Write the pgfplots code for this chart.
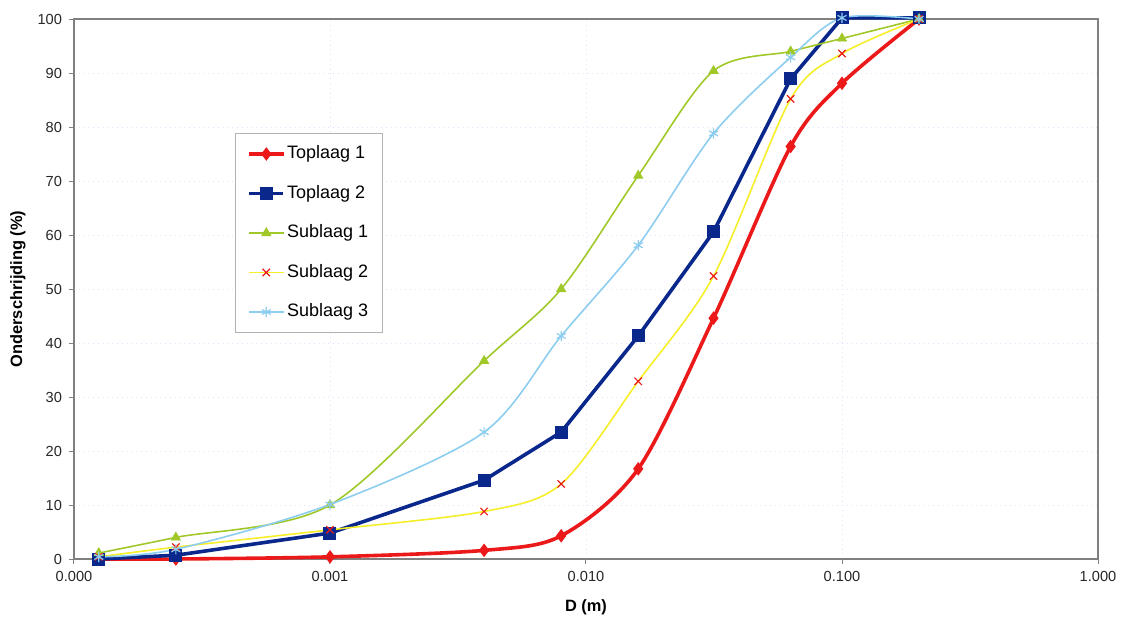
\documentclass[border=0pt]{standalone}
\usepackage{fontspec}
\setmainfont{Liberation Sans}
\usepackage{pgfplots}
\pgfplotsset{compat=1.18}
\definecolor{cRed}{RGB}{235,25,25}
\definecolor{cBlue}{RGB}{10,40,140}
\definecolor{cGreen}{RGB}{160,200,40}
\definecolor{cYellow}{RGB}{245,238,40}
\definecolor{cLight}{RGB}{140,205,240}
\definecolor{cAxis}{RGB}{128,128,128}
\begin{document}
\begin{tikzpicture}
\begin{axis}[name=ax,
  xmode=log, scale only axis, width=512pt, height=270pt,
  xmin=1e-4, xmax=1, ymin=0, ymax=100,
  xtick={1e-4,1e-3,1e-2,1e-1,1},
  xticklabels={0.000,0.001,0.010,0.100,1.000},
  xminorticks=false,
  ytick={0,10,...,100},
  /pgf/number format/assume math mode=true,
  tick label style={font=\fontsize{7.3}{8}\selectfont, text=black!85},
  tick align=outside, major tick length=2.5pt,
  tick style={cAxis, line width=0.5pt},
  axis line style={cAxis, line width=0.6pt},
  xtick pos=bottom, ytick pos=left,
  grid=major,
  major grid style={dotted, line width=0.4pt, color=blue!12},
  xlabel={\textbf{D (m)}},
  ylabel={\textbf{Onderschrijding (\%)}},
  label style={font=\fontsize{8.2}{9}\selectfont},
  xlabel style={at={(axis description cs:0.5,-0.0889)}, anchor=center},
  ylabel style={at={(axis description cs:-0.0547,0.5)}, anchor=center, rotate=0},
  clip=false,
  legend cell align=left,
  legend style={at={(axis description cs:0.1572,0.7889)}, anchor=north west,
    draw=gray!60, line width=0.5pt, font=\fontsize{9}{10}\selectfont,
    inner xsep=6pt, inner ysep=5pt, row sep=9.25pt,
    nodes={text height=6.6pt, text depth=1.9pt, inner sep=1pt}},
]
\addplot[cRed, line width=1.8pt, smooth, tension=0.5, mark=diamond*, mark size=3pt, mark options={solid, fill=cRed, line width=0.5pt}]
coordinates {(1.25e-4,0)(2.5e-4,0)(1e-3,0.4)(4e-3,1.6)(8e-3,4.3)(1.6e-2,16.7)(3.15e-2,44.6)(6.3e-2,76.4)(0.1,88.1)(0.2,100)};
\addlegendentry{Toplaag 1}
\addplot[cBlue, line width=1.8pt, sharp plot, mark=square*, mark size=3pt, mark options={solid, fill=cBlue, line width=0.5pt}]
coordinates {(1.25e-4,0)(2.5e-4,0.7)(1e-3,4.8)(4e-3,14.6)(8e-3,23.5)(1.6e-2,41.3)(3.15e-2,60.6)(6.3e-2,88.9)(0.1,100.2)(0.2,100.2)};
\addlegendentry{Toplaag 2}
\addplot[cGreen, line width=0.8pt, smooth, tension=0.5, mark=triangle*, mark size=2.6pt, mark options={solid, fill=cGreen, line width=0.4pt}]
coordinates {(1.25e-4,1.1)(2.5e-4,4.0)(1e-3,10.0)(4e-3,36.7)(8e-3,50.0)(1.6e-2,71.0)(3.15e-2,90.4)(6.3e-2,94.0)(0.1,96.4)(0.2,100)};
\addlegendentry{Sublaag 1}
\addplot[cYellow, line width=0.8pt, smooth, tension=0.5, mark=x, mark size=2.6pt, mark options={solid, draw=cRed, line width=0.6pt}]
coordinates {(1.25e-4,0.4)(2.5e-4,2.2)(1e-3,5.4)(4e-3,8.8)(8e-3,13.9)(1.6e-2,32.9)(3.15e-2,52.4)(6.3e-2,85.2)(0.1,93.6)(0.2,100)};
\addlegendentry{Sublaag 2}
\addplot[cLight, line width=0.8pt, smooth, tension=0.5, mark=asterisk, mark size=2.6pt, mark options={solid, draw=cLight, line width=0.6pt}]
coordinates {(1.25e-4,0.4)(2.5e-4,1.8)(1e-3,10.1)(4e-3,23.5)(8e-3,41.3)(1.6e-2,58.1)(3.15e-2,78.8)(6.3e-2,92.9)(0.1,100.2)(0.2,100)};
\addlegendentry{Sublaag 3}
\end{axis}
\path ([xshift=-37pt,yshift=-29pt]ax.south west) rectangle ([xshift=12.5pt,yshift=9.5pt]ax.north east);
\end{tikzpicture}
\end{document}
